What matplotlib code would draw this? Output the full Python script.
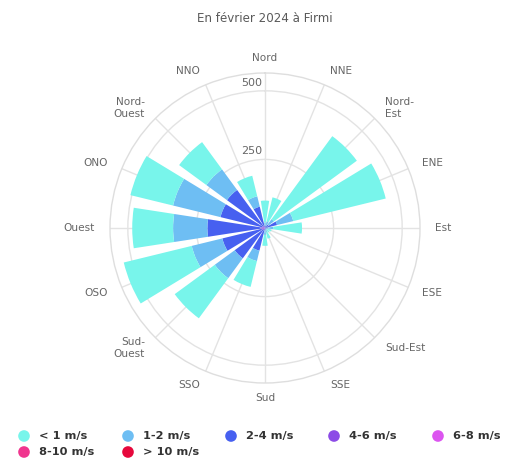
import numpy as np
import matplotlib
matplotlib.use("Agg")
import matplotlib.pyplot as plt
from matplotlib.transforms import offset_copy

# ---- data ----
directions = ["Nord", "NNE", "Nord-\nEst", "ENE", "Est", "ESE", "Sud-Est", "SSE",
              "Sud", "SSO", "Sud-\nOuest", "OSO", "Ouest", "ONO", "Nord-\nOuest", "NNO"]
series_names = ["< 1 m/s", "1-2 m/s", "2-4 m/s", "4-6 m/s", "6-8 m/s", "8-10 m/s", "> 10 m/s"]
series_colors = ["#78f5eb", "#6ebef3", "#4760f0", "#8c4be6", "#dc55f0", "#f0368f", "#e6083c"]

lt1   = [80, 90, 375, 347, 105, 15, 12, 25, 40, 97, 181, 255, 149, 160, 123, 77]
s1_2  = [12, 15, 25, 61, 20, 6, 5, 10, 17, 39, 90, 115, 125, 178, 93, 39]
s2_4  = [7, 9, 14, 41, 9, 4, 3, 5, 7, 79, 127, 147, 194, 156, 164, 75]
s4_6  = [1, 1, 1, 3, 1, 0, 0, 0, 1, 5, 8, 10, 12, 8, 6, 4]
s6_8  = [0, 0, 0, 1, 0, 0, 0, 0, 0, 1, 2, 3, 4, 3, 2, 1]
s8_10 = [0] * 16
s10p  = [0] * 16

radial_ticks = [250, 500]
r_max = 565
title = "En février 2024 à Firmi"

series = [lt1, s1_2, s2_4, s4_6, s6_8, s8_10, s10p]

W, H = 513, 459
fig = plt.figure(figsize=(W / 100, H / 100), dpi=100)

cx, cy, R = 265, 228, 155
ax = fig.add_axes([(cx - R) / W, 1 - (cy + R) / H, 2 * R / W, 2 * R / H], projection="polar")
ax.set_theta_zero_location("N")
ax.set_theta_direction(-1)
ax.set_ylim(0, r_max)

n = len(directions)
theta = np.deg2rad(np.arange(n) * 360.0 / n)
width = np.deg2rad(360.0 / n) * 0.78

# stacking: last series innermost
bottom = np.zeros(n)
for vals, col in list(zip(series, series_colors))[::-1]:
    v = np.array(vals, dtype=float)
    ax.bar(theta, v, width=width, bottom=bottom, color=col, edgecolor="none", zorder=2)
    bottom += v

grid_col = "#e3e3e3"
ax.set_xticks(theta)
ax.set_xticklabels([])
ax.set_yticks(radial_ticks)
ax.set_yticklabels([])
ax.grid(True, color=grid_col, linewidth=1.0)
ax.set_axisbelow(True)
ax.spines["polar"].set_color("#dedede")
ax.spines["polar"].set_linewidth(1.0)
ax.tick_params(length=0)

# radial labels
tr = offset_copy(ax.transData, fig=fig, x=-3, y=3, units="dots")
for t in radial_ticks:
    ax.text(0, t, str(t), transform=tr, ha="right", va="bottom",
            fontsize=8, color="#666666", zorder=5)

# direction labels
r_lab = r_max * 170 / 155
for ang, lab in zip(np.rad2deg(theta), directions):
    if ang < 1 or abs(ang - 180) < 1:
        ha = "center"
    elif ang < 180:
        ha = "left"
    else:
        ha = "right"
    ax.text(np.deg2rad(ang), r_lab, lab, ha=ha, va="center", multialignment=ha,
            fontsize=7.6, color="#666666", clip_on=False, linespacing=1.25)

fig.text(cx / W, 1 - 19 / H, title, ha="center", va="center", fontsize=8.6, color="#5a5a5a")

# legend
lax = fig.add_axes([0, 0, 1, 1])
lax.set_xlim(0, W)
lax.set_ylim(H, 0)
lax.axis("off")
pos = [(24, 436), (128, 436), (231, 436), (334, 436), (438, 436), (24, 452), (128, 452)]
for (x, y), name, col in zip(pos, series_names, series_colors):
    lax.scatter([x], [y], s=70, color=col, edgecolors="none")
    lax.text(x + 15, y, name, ha="left", va="center", fontsize=8.2,
             fontweight="bold", color="#333333")

fig.savefig("out.png", dpi=100)
